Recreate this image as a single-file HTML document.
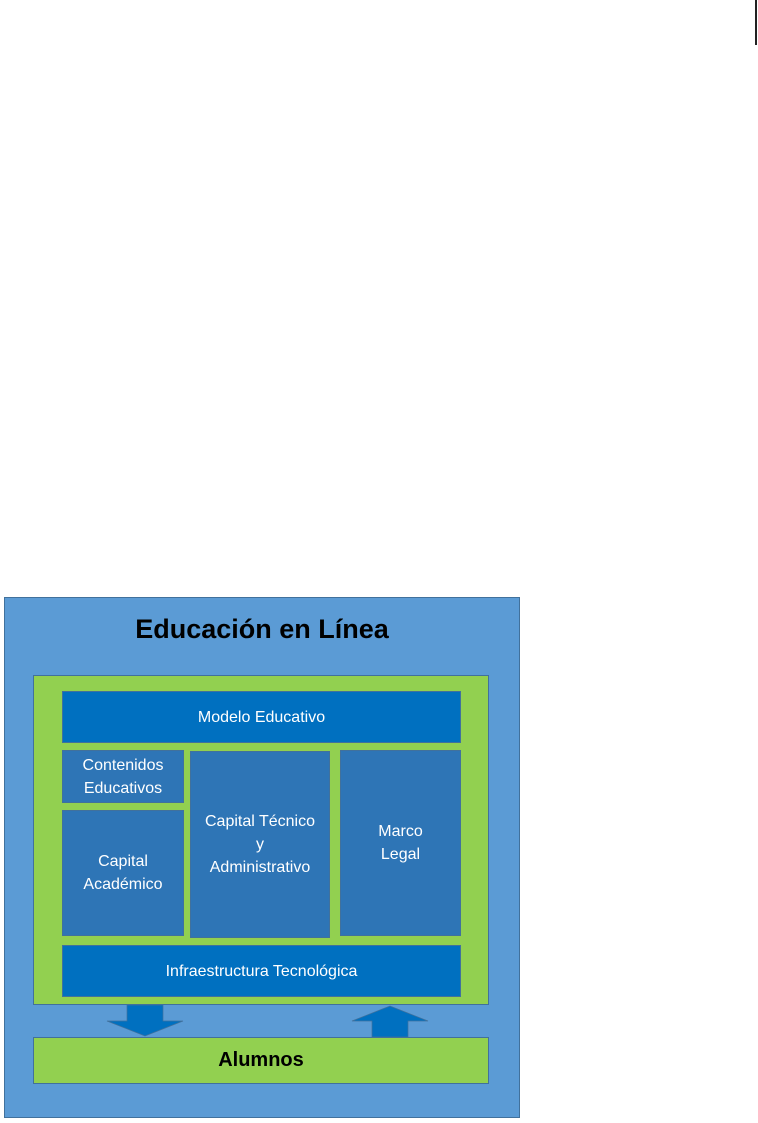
<!DOCTYPE html>
<html><head><meta charset="utf-8"><style>
body{margin:0;width:758px;height:1123px;background:#fff;position:relative;overflow:hidden;font-family:"Liberation Sans",sans-serif}
div{position:absolute;box-sizing:border-box}
.b{color:#fff;display:flex;align-items:center;justify-content:center;text-align:center;font-size:16px;line-height:23px;border:1px solid #41719c}
.d{background:#0070c0}.m{background:#2e75b6}
</style></head><body>
<div style="left:755px;top:0;width:2px;height:45px;background:#222"></div>
<div style="left:4px;top:597px;width:516px;height:521px;background:#5b9bd5;border:1px solid #41719c"></div>
<div style="left:4px;top:614px;width:516px;text-align:center;font-size:27px;font-weight:bold;color:#000">Educación en Línea</div>
<div style="left:33px;top:675px;width:456px;height:330px;background:#92d050;border:1px solid #41719c"></div>
<div class="b d" style="left:62px;top:691px;width:399px;height:52px">Modelo Educativo</div>
<div class="b m" style="left:62px;top:750px;width:122px;height:53px">Contenidos<br>Educativos</div>
<div class="b m" style="left:62px;top:810px;width:122px;height:126px;padding-bottom:0">Capital<br>Académico</div>
<div class="b m" style="left:190px;top:751px;width:140px;height:187px;padding-bottom:0">Capital Técnico<br>y<br>Administrativo</div>
<div class="b m" style="left:340px;top:750px;width:121px;height:186px;padding-bottom:0">Marco<br>Legal</div>
<div class="b d" style="left:62px;top:945px;width:399px;height:52px">Infraestructura Tecnológica</div>
<svg style="position:absolute;left:0;top:0" width="758" height="1123">
<polygon points="127,1005 163,1005 163,1021 183,1021 145,1036 107,1021 127,1021" fill="#0070c0" stroke="#41719c" stroke-width="0.7"/>
<polygon points="372,1037 408,1037 408,1021 428,1021 390,1006 352,1021 372,1021" fill="#0070c0" stroke="#41719c" stroke-width="0.7"/>
</svg>
<div style="left:33px;top:1037px;width:456px;height:47px;background:#92d050;border:1px solid #41719c;display:flex;align-items:center;justify-content:center;font-weight:bold;font-size:20px">Alumnos</div>
</body></html>
